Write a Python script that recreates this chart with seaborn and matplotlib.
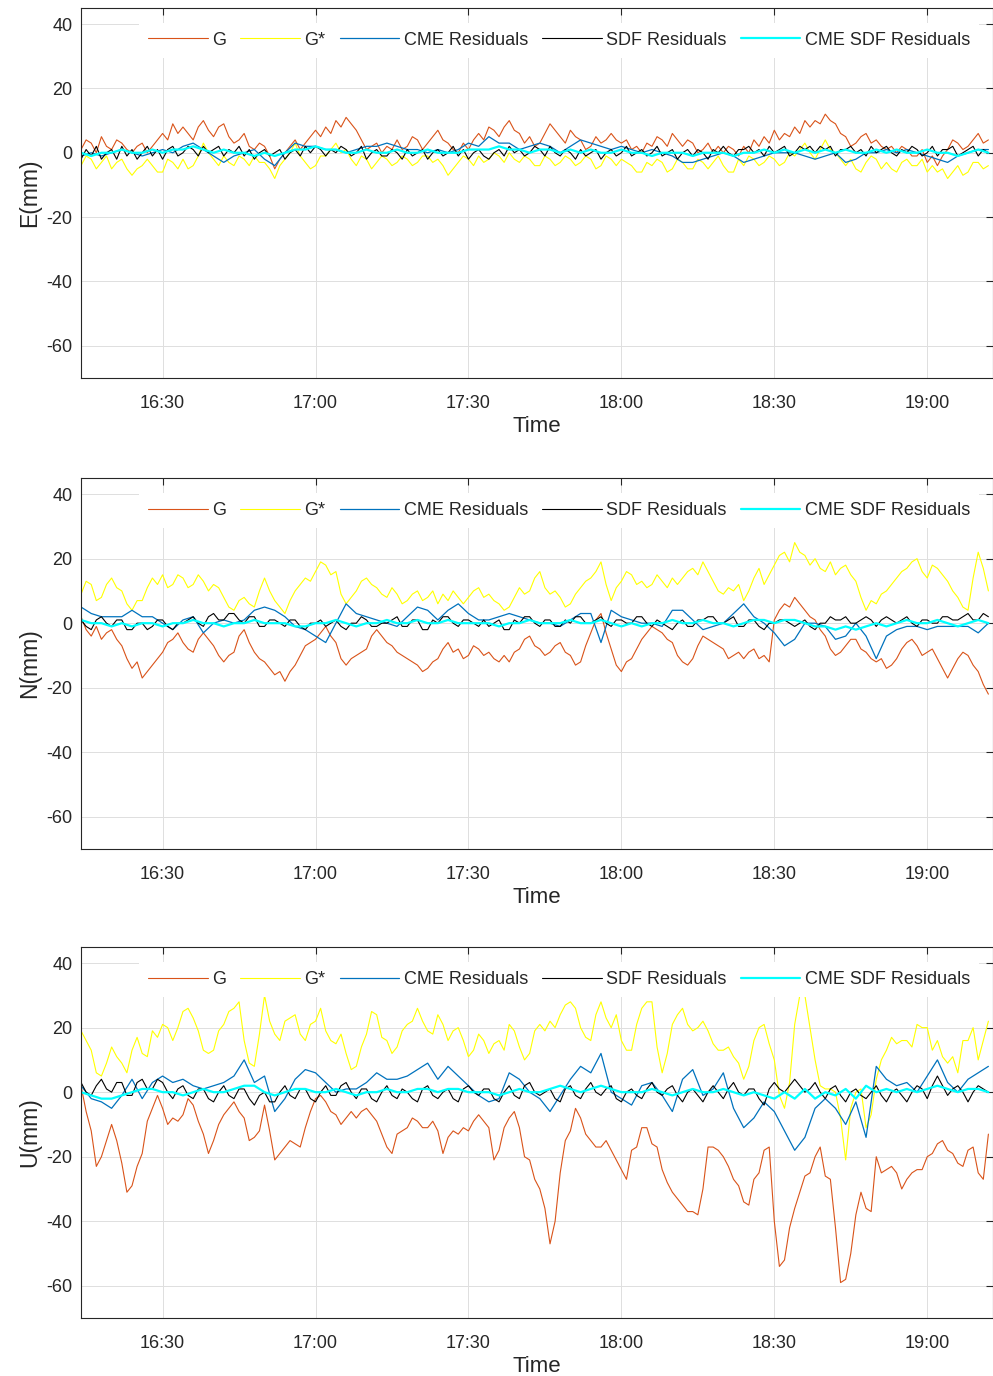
import numpy as np
import pandas as pd
import matplotlib
matplotlib.use("Agg")
import matplotlib.pyplot as plt
import matplotlib.dates as mdates
import seaborn as sns

# sampling grids: minutes after 16:00 (16:14 ... 19:12)
minutes_fine = np.arange(14, 193, 1)     # 1-min readings
minutes_coarse = np.arange(14, 193, 2)   # 2-min readings

series_names = ["G", "G*", "CME Residuals", "SDF Residuals", "CME SDF Residuals"]
series_colors = ["#D95319", "#FFFF00", "#0072BD", "#000000", "#00FFFF"]
panel_labels = ["E(mm)", "N(mm)", "U(mm)"]
y_ticks = [-60, -40, -20, 0, 20, 40]

# ---------------- E component ----------------
E_G = [1, 4, 3, 0, 5, 2, 1, 4, 3, 1,
       0, 2, 3, 0, 2, 4, 6, 4, 9, 6,
       8, 6, 4, 8, 10, 7, 5, 8, 9, 5,
       3, 4, 6, 2, 1, 3, 2, -1, -5, -2,
       0, 2, 4, 1, 3, 5, 7, 5, 8, 6,
       10, 8, 11, 9, 7, 4, 1, 2, 3, 0,
       2, 1, 4, 1, 2, 5, 4, 1, 3, 5,
       7, 4, 3, 1, 0, 3, 1, 4, 6, 4,
       8, 7, 5, 8, 10, 7, 6, 3, 5, 2,
       3, 6, 9, 7, 5, 3, 7, 5, 4, 1,
       2, 5, 3, 4, 6, 4, 3, 4, 1, 2,
       0, 3, 2, 5, 4, 2, 6, 4, 2, 4,
       3, 0, 1, 3, 0, 2, 0, 2, 1, -1,
       2, 0, 4, 2, 5, 3, 7, 4, 6, 5,
       8, 6, 10, 8, 10, 9, 12, 10, 9, 6,
       5, 2, 3, 5, 6, 3, 4, 2, 1, 2,
       0, 2, 1, -1, -1, 1, -3, -1, -4, -1,
       1, 4, 3, 1, 2, 4, 6, 3, 4]
E_Gs = [-4, -1, -2, -5, -3, -1, -5, -3, -2, -5,
        -7, -5, -4, -2, -4, -6, -6, -2, -3, -5,
        -2, -5, -4, -1, 3, 0, -2, -4, -1, -3,
        -4, -1, -2, -4, -1, -3, -3, -5, -8, -4,
        -2, 0, 3, -1, -3, -5, -4, -1, -1, 1,
        3, 0, 1, -2, -4, -1, -2, -5, -3, -1,
        -2, -4, -3, -1, -2, -4, -3, -1, -1, -3,
        -2, -4, -7, -5, -3, -1, -2, -4, -1, -3,
        -2, 0, -1, -3, 0, -2, -3, -1, -2, -4,
        -4, -1, -2, -4, -3, -1, -2, -4, -3, -1,
        -2, -5, -4, -1, -2, -4, -2, -3, -4, -6,
        -6, -3, -4, -2, -3, -6, -5, -2, -3, -5,
        -5, -2, -3, -5, -3, -1, -4, -6, -6, -2,
        -4, -1, -2, -4, -3, -1, -2, -4, -3, 0,
        -1, 1, 3, 0, -2, 1, 4, 1, 0, -2,
        -4, -2, -5, -6, -3, -1, -2, -5, -3, -5,
        -6, -3, -2, -4, -4, -2, -6, -4, -6, -5,
        -8, -6, -4, -7, -6, -3, -3, -5, -4]
E_CME = [-1, 0, -1, 0, 1, 0, -1, 0, 1, 0,
         2, 3, 1, -1, -3, -1, 0, 1, -2, -4,
         0, 3, 2, 2, 1, 1, 0, 1, 2, 2,
         3, 2, 1, 1, 0, 1, 0, 1, 3, 2,
         5, 3, 3, 1, 2, 3, 2, 0, 2, 4,
         3, 2, 1, 2, 1, 0, 1, 0, -1, -3,
         -3, -2, -1, 0, -1, -3, -2, -1, 0, 0,
         0, -1, -2, -1, 0, -3, -2, 0, 0, 1,
         0, 1, 0, -1, -2, -3, -1, 0, 1, 1]
E_SDF = [-2, 1, -1, 2, -2, 0, 1, -2, 2, -1,
         1, -2, 0, 2, -1, 1, -2, 1, 2, -1,
         0, 2, 1, -1, 2, 0, 1, 2, -1, 1,
         0, 2, -1, 1, -2, 0, 1, -1, 0, 1,
         -2, 0, 1, -1, 2, 0, 2, 1, -1, 1,
         0, 2, 1, -1, 0, 2, -2, 0, 1, -1,
         -1, 1, 0, -2, 1, -1, 0, 1, -2, 0,
         1, -1, 0, 2, -1, 1, -2, 0, 1, -1,
         -2, 0, 1, -1, 2, 0, 1, -1, 0, 2,
         1, -1, 2, 0, -1, 1, 0, -2, 1, -1,
         0, 1, -2, 0, 1, -1, 0, 2, -1, 0,
         1, -1, 0, 2, -1, 0, 1, -2, 0, 1,
         -1, 1, 0, -2, 1, 0, 2, 0, -1, 1,
         1, 2, 0, 1, -1, 2, 0, 1, 2, -1,
         0, 2, 1, 2, 0, 2, 1, 2, -1, 1,
         1, 2, 0, 1, -1, 2, 0, 1, 2, 0,
         -1, 1, 0, 2, 1, -1, 0, 2, -1, 1,
         1, 2, -1, 0, 1, 2, -1, 1, 0]
E_CMESDF = [0, -1, 0, 0, 1, 0, 0, 1, 0, 1,
            1, 2, 1, 0, 1, 0, 0, -1, 0, -1,
            0, 1, 1, 2, 1, 1, 0, 0, 1, 0,
            0, 1, 0, 0, 1, 0, 0, 0, 1, 1,
            1, 2, 1, 1, 0, 1, 1, 0, 1, 0,
            1, 0, 0, 1, 0, 0, -1, 0, 0, 0,
            -1, 0, 0, 0, -1, 0, 0, 1, 0, 1,
            0, 1, 0, 1, 0, 1, 0, 0, 1, 0,
            1, 0, 0, 1, 0, 0, -1, 0, 1, 0]

# ---------------- N component ----------------
N_G = [2, -2, -4, -1, -5, -3, -2, -5, -7, -11,
       -14, -12, -17, -15, -13, -11, -9, -6, -5, -3,
       -6, -8, -9, -5, -3, -5, -7, -10, -12, -10,
       -9, -4, -2, -6, -9, -11, -12, -14, -16, -15,
       -18, -15, -13, -10, -7, -6, -5, -3, -1, -4,
       -6, -11, -13, -11, -10, -9, -8, -4, -2, -4,
       -6, -7, -9, -10, -11, -12, -13, -15, -14, -12,
       -11, -8, -6, -9, -8, -11, -10, -7, -8, -10,
       -9, -11, -12, -10, -12, -9, -8, -5, -4, -7,
       -8, -10, -9, -7, -6, -9, -10, -13, -12, -7,
       -3, 1, 3, -3, -8, -13, -15, -12, -11, -8,
       -5, -3, -1, -2, -3, -5, -6, -10, -12, -13,
       -11, -7, -4, -5, -6, -7, -8, -11, -10, -9,
       -11, -9, -8, -11, -10, -12, 1, 4, 6, 5,
       8, 6, 4, 2, 1, -2, -4, -8, -10, -9,
       -7, -5, -5, -8, -9, -11, -12, -11, -14, -13,
       -11, -8, -6, -5, -7, -10, -9, -8, -11, -14,
       -17, -14, -11, -9, -10, -13, -15, -19, -22]
N_Gs = [9, 13, 12, 7, 8, 12, 14, 11, 10, 6,
        4, 7, 7, 11, 14, 12, 15, 11, 12, 15,
        14, 11, 12, 15, 13, 10, 12, 11, 8, 5,
        4, 7, 8, 6, 5, 10, 14, 10, 7, 5,
        3, 7, 10, 12, 14, 13, 16, 19, 18, 15,
        16, 9, 6, 8, 10, 13, 14, 12, 11, 9,
        8, 11, 9, 6, 7, 9, 10, 7, 8, 10,
        6, 9, 7, 10, 8, 6, 8, 10, 11, 8,
        9, 7, 6, 4, 5, 8, 11, 9, 10, 14,
        16, 11, 9, 10, 8, 5, 6, 9, 11, 13,
        14, 16, 19, 12, 7, 11, 13, 16, 15, 12,
        13, 11, 12, 15, 13, 11, 14, 12, 14, 16,
        17, 15, 19, 16, 13, 10, 9, 11, 10, 12,
        7, 10, 14, 17, 12, 15, 18, 21, 22, 19,
        25, 22, 21, 18, 20, 17, 16, 19, 15, 17,
        18, 15, 13, 8, 4, 7, 6, 9, 10, 12,
        14, 16, 17, 19, 20, 16, 14, 18, 17, 15,
        13, 10, 8, 5, 4, 14, 22, 17, 10]
N_CME = [5, 3, 2, 2, 2, 4, 2, 2, 0, -2,
         1, 2, -3, 0, 1, 0, 1, 4, 5, 4,
         2, -1, -2, -4, -6, 0, 6, 3, 2, 1,
         0, -1, 2, 5, 4, 1, 4, 6, 3, 1,
         1, 2, 3, 2, 1, 0, 0, -1, 1, 3,
         3, -6, 4, 2, 1, 0, 0, -1, 4, 4,
         1, -2, -1, 0, 3, 6, 2, 0, -3, -7,
         -5, 0, 0, -1, -5, -4, 0, -4, -11, -4,
         -2, -1, -1, -2, -1, -1, -1, -1, -3, 0]
N_SDF = [1, -1, -2, 1, 2, 0, -1, 1, 1, -2,
         -2, 0, 0, -2, -1, 1, 1, -1, -2, 0,
         0, 1, 2, 0, -1, 2, 3, 1, 1, 3,
         3, 1, 0, 2, 2, -1, -1, 1, 1, 0,
         -1, 1, 1, -1, -2, 0, 0, 1, -1, 0,
         1, -1, -2, 0, 0, 2, 1, -1, -1, 0,
         0, 1, 2, -1, -1, 1, 1, -2, -2, 1,
         0, 2, 2, 0, -1, 1, 1, 0, -1, 1,
         -1, 0, 1, -2, -2, 1, 0, 2, 2, 0,
         -1, 1, 1, -1, -1, 1, 0, 2, 2, 0,
         0, 1, 2, 0, -1, 1, 1, 0, 0, 2,
         2, 0, -1, 1, 0, -1, -2, 0, 1, -1,
         -1, 1, 1, 2, 2, 0, 0, 1, 2, -1,
         -1, 1, 1, -1, -2, 0, 0, 1, 1, 0,
         -1, 0, 1, -1, -2, 0, 0, 2, 1, 1,
         2, 0, 0, 1, 2, 1, -1, 1, 2, 1,
         0, 1, 2, 0, -1, 1, 1, 0, 0, 2,
         2, 1, 1, 2, 3, 1, 1, 3, 2]
N_CMESDF = [1, 0, 0, -1, 0, -1, 0, 0, -1, 0,
            0, 1, 0, 0, -1, 0, 0, 1, 0, 0,
            0, -1, -1, 0, 0, 1, 0, -1, 0, 0,
            1, 0, 0, 1, 0, 0, 1, 0, 0, 0,
            0, -1, 0, 0, 1, 0, 0, 0, 1, 0,
            0, 1, 0, -1, 0, -1, 0, 0, 1, 0,
            0, 1, 0, 0, -1, 0, 1, 1, 0, 1,
            1, 0, -1, -1, -2, -1, -2, -1, 0, -1,
            0, 1, 0, 0, 1, 0, -1, 0, 1, 0]

# ---------------- U component ----------------
U_G = [2, -6, -12, -23, -20, -15, -10, -15, -22, -31,
       -29, -23, -19, -9, -5, -1, -5, -10, -8, -9,
       -7, -2, -4, -9, -13, -19, -15, -10, -7, -5,
       -3, -6, -8, -15, -14, -12, -4, -12, -21, -19,
       -17, -15, -16, -17, -11, -6, -2, -1, -3, -6,
       -7, -10, -8, -6, -8, -6, -5, -7, -9, -13,
       -17, -19, -13, -12, -11, -8, -9, -11, -11, -9,
       -12, -19, -14, -12, -13, -11, -12, -9, -7, -9,
       -11, -21, -18, -11, -8, -6, -11, -20, -21, -27,
       -30, -36, -47, -40, -25, -15, -12, -5, -8, -13,
       -15, -17, -17, -15, -18, -21, -24, -27, -18, -17,
       -11, -11, -16, -17, -24, -28, -31, -33, -35, -37,
       -37, -38, -30, -17, -17, -18, -20, -23, -27, -29,
       -34, -35, -27, -25, -18, -17, -40, -54, -52, -42,
       -36, -31, -26, -25, -20, -17, -26, -27, -42, -59,
       -58, -50, -38, -31, -36, -37, -20, -25, -24, -23,
       -25, -30, -27, -25, -24, -24, -20, -19, -16, -15,
       -18, -19, -22, -23, -18, -17, -25, -27, -13]
U_Gs = [19, 16, 13, 6, 5, 9, 14, 11, 9, 6,
        13, 17, 12, 11, 19, 17, 21, 20, 16, 20,
        25, 26, 23, 19, 13, 12, 13, 19, 21, 25,
        26, 28, 16, 9, 8, 18, 30, 22, 18, 16,
        22, 23, 24, 18, 16, 21, 22, 26, 19, 16,
        15, 18, 12, 7, 8, 14, 18, 25, 24, 17,
        16, 12, 14, 19, 21, 22, 26, 22, 19, 18,
        24, 21, 16, 19, 20, 16, 11, 13, 18, 16,
        12, 15, 16, 13, 21, 19, 14, 10, 12, 19,
        21, 19, 22, 20, 24, 27, 28, 26, 20, 17,
        16, 24, 28, 23, 20, 24, 16, 13, 13, 21,
        26, 28, 28, 14, 6, 12, 21, 24, 26, 21,
        19, 20, 22, 19, 15, 13, 13, 14, 11, 9,
        4, 8, 16, 20, 21, 15, 10, -1, -5, 3,
        21, 30, 30, 20, 10, 2, 1, 1, 0, -8,
        -21, -5, 0, 1, -11, -7, 4, 10, 13, 17,
        15, 16, 16, 14, 21, 20, 20, 13, 16, 11,
        9, 11, 6, 16, 16, 20, 10, 16, 22]
U_CME = [2, -2, -3, -5, -1, 4, -2, 3, 5, 3,
         4, 2, 1, 2, 3, 5, 10, 3, 5, -6,
         -2, 4, 7, 6, 3, 0, 1, 1, 3, 6,
         4, 4, 5, 7, 9, 4, 8, 5, 2, -1,
         -3, -2, 6, 4, 0, -2, -6, -1, 4, 8,
         6, 12, 0, -2, -4, 2, 3, -1, -6, 4,
         7, -1, 1, 6, -5, -11, -8, -3, -6, -12,
         -18, -14, -5, -2, -5, -10, -3, -14, 8, 4,
         2, 3, 0, 5, 10, 3, 0, 4, 6, 8]
U_SDF = [3, 0, -1, 2, 4, 1, 0, 3, 3, -1,
         -1, 3, 4, 1, 1, 4, 3, 0, -2, 1,
         2, -1, -2, 1, 1, -2, -3, 0, 2, -1,
         -2, 1, 1, -2, -4, -1, 0, -3, -3, 0,
         2, -1, -2, 1, 1, -2, -3, 0, 2, -1,
         -1, 2, 3, 0, -2, 1, 1, -2, -3, 0,
         2, -1, -2, 1, 0, -2, -3, 1, 2, -1,
         -2, 0, 1, -2, -3, 1, 2, 0, -1, 1,
         1, -2, -3, 0, 2, -1, -2, 2, 3, 0,
         -1, 0, 1, -2, -3, 1, 2, -1, -2, 1,
         3, 0, -1, 1, 2, -2, -3, 0, 1, -1,
         -2, 1, 3, 0, -1, 1, 2, -1, -3, 0,
         1, -1, -3, 0, 2, 0, -2, 1, 3, 0,
         -1, 1, 1, -2, -4, 1, 3, 1, 0, 2,
         4, 2, 0, 1, 3, 0, -2, 1, 2, -1,
         -3, 0, 1, -1, -2, 0, 2, -1, -3, 0,
         1, -1, -3, 0, 2, 1, -2, 2, 5, 2,
         -1, 1, 2, 0, -3, 0, 2, 1, 0]
U_CMESDF = [0, -1, -2, -2, -1, 0, 1, 1, 0, 0,
            -1, 0, 1, 0, 0, 1, 2, 2, 0, -1,
            0, 1, 1, 0, 0, 1, 0, -1, 0, 0,
            1, 0, 0, 1, 1, 0, 1, 1, 0, 0,
            0, -1, 0, 1, 0, 0, 1, 2, 1, 0,
            1, 2, 1, 0, 0, 0, 1, 0, -1, 0,
            1, 0, 0, 1, 0, -1, 0, -1, -2, 0,
            -2, 1, -2, 0, -1, 1, -2, 2, 0, 1,
            0, 1, 0, 1, 2, 1, 0, 1, 1, 0]

panels = [
    [E_G, E_Gs, E_CME, E_SDF, E_CMESDF],
    [N_G, N_Gs, N_CME, N_SDF, N_CMESDF],
    [U_G, U_Gs, U_CME, U_SDF, U_CMESDF],
]

sns.set_theme(style="white")
plt.rcParams["font.family"] = ["Liberation Sans", "DejaVu Sans"]
plt.rcParams["axes.unicode_minus"] = False

base = pd.Timestamp("2020-01-01 16:00")


def to_times(vals):
    grid = minutes_fine if len(vals) > 120 else minutes_coarse
    return base + pd.to_timedelta(grid[:len(vals)], unit="m")


fig = plt.figure(figsize=(9.93, 13.76), dpi=100)
axes_rects = [
    [0.0816, 0.7253, 0.9189, 0.2689],
    [0.0816, 0.3830, 0.9189, 0.2696],
    [0.0816, 0.0421, 0.9189, 0.2697],
]
axc = "#262626"
line_widths = [0.8, 0.8, 0.9, 0.8, 1.6]

for rect, data, ylab in zip(axes_rects, panels, panel_labels):
    ax = fig.add_axes(rect)
    for name, vals, col, lw in zip(series_names, data, series_colors, line_widths):
        tt = to_times(vals)
        df = pd.DataFrame({"time": tt, "value": vals[:len(tt)]})
        sns.lineplot(data=df, x="time", y="value", ax=ax, color=col, lw=lw,
                     label=name, legend=False)
    ax.set_xlim(base + pd.Timedelta(minutes=14), base + pd.Timedelta(minutes=193))
    ax.set_ylim(-70, 45)
    ax.set_yticks(y_ticks)
    ax.xaxis.set_major_locator(mdates.MinuteLocator(byminute=[0, 30]))
    ax.xaxis.set_major_formatter(mdates.DateFormatter("%H:%M"))
    ax.grid(True, color="#DFDFDF", lw=0.7)
    ax.set_axisbelow(True)
    ax.tick_params(direction="in", top=True, right=True, length=5, width=0.8,
                   labelsize=13, colors=axc)
    ax.tick_params(axis="x", pad=12)
    ax.tick_params(axis="y", pad=6)
    for sp in ax.spines.values():
        sp.set_color(axc)
        sp.set_linewidth(0.8)
    ax.set_xlabel("Time", fontsize=16, color=axc, labelpad=3)
    ax.set_ylabel(ylab, fontsize=16.5, color=axc, labelpad=4)
    leg = ax.legend(ncol=5, loc="upper right", bbox_to_anchor=(0.9841, 0.960),
                    fontsize=13, frameon=True, framealpha=1, facecolor="white",
                    edgecolor="none", fancybox=False, handlelength=3.3,
                    handletextpad=0.25, columnspacing=0.78, borderpad=0.5,
                    borderaxespad=0)
    for t in leg.get_texts():
        t.set_color(axc)

fig.savefig("out.png", dpi=100)
